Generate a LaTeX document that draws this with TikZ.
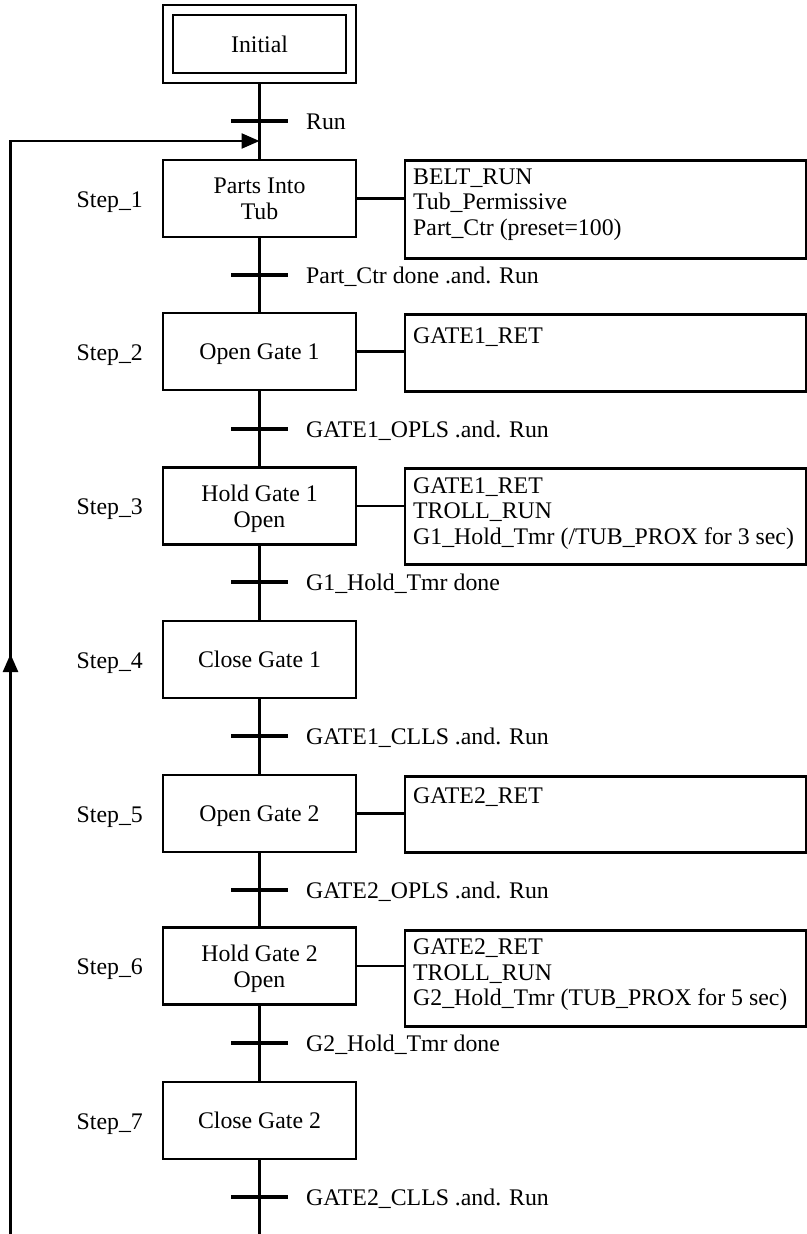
\documentclass[tikz,border=0pt]{standalone}
\usepackage{fontspec}
\setmainfont{Liberation Serif}
\usetikzlibrary{arrows.meta}
\begin{document}
\begin{tikzpicture}[x=1pt,y=-1pt,
  every node/.style={font=\fontsize{23.8}{26}\selectfont},
  line/.style={line width=2.5pt},
  stepbox/.style={draw, line width=2.5pt, minimum width=193pt, minimum height=77pt, align=center, inner sep=0pt, text depth=0pt},
  actbox/.style={draw, line width=2.5pt, minimum width=401pt, inner sep=0pt, anchor=north west},
  bar/.style={line width=3.5pt},
  lab/.style={anchor=base west, inner sep=0pt},
  steplab/.style={anchor=base east, inner sep=0pt},
  tip/.style={-{Triangle[length=18pt,width=15pt]}}
]
\useasboundingbox (0,0) rectangle (806,1234);

% initial step
\node[draw, line width=2.5pt, minimum width=193pt, minimum height=78pt, inner sep=0pt] (init) at (259.5,44) {};
\node[draw, line width=2.5pt, minimum width=173pt, minimum height=58pt, inner sep=0pt, text depth=0pt] (initin) at (259.5,44) {Initial};

% steps
\node[stepbox] (s1) at (259.5,198.5) {Parts Into\\Tub};
\node[stepbox] (s2) at (259.5,351.5) {Open Gate 1};
\node[stepbox] (s3) at (259.5,506) {Hold Gate 1\\Open};
\node[stepbox] (s4) at (259.5,659.5) {Close Gate 1};
\node[stepbox] (s5) at (259.5,813.5) {Open Gate 2};
\node[stepbox] (s6) at (259.5,966) {Hold Gate 2\\Open};
\node[stepbox] (s7) at (259.5,1120.5) {Close Gate 2};

% step labels
\node[steplab] (n1) at (143,207) {Step\_1};
\node[steplab] (n2) at (143,360) {Step\_2};
\node[steplab] (n3) at (143,514.5) {Step\_3};
\node[steplab] (n4) at (143,668) {Step\_4};
\node[steplab] (n5) at (143,822) {Step\_5};
\node[steplab] (n6) at (143,974.5) {Step\_6};
\node[steplab] (n7) at (143,1129) {Step\_7};

% transitions
\coordinate (t0) at (259.5,121);
\coordinate (t1) at (259.5,275);
\coordinate (t2) at (259.5,429);
\coordinate (t3) at (259.5,582);
\coordinate (t4) at (259.5,736);
\coordinate (t5) at (259.5,890);
\coordinate (t6) at (259.5,1043);
\coordinate (t7) at (259.5,1197);
\coordinate (bot) at (259.5,1236);

% main line
\draw[line] (init.south) -- (s1.north);
\draw[line] (s1.south) -- (s2.north);
\draw[line] (s2.south) -- (s3.north);
\draw[line] (s3.south) -- (s4.north);
\draw[line] (s4.south) -- (s5.north);
\draw[line] (s5.south) -- (s6.north);
\draw[line] (s6.south) -- (s7.north);
\draw[line] (s7.south) -- (bot);

\foreach \t in {t0,t1,t2,t3,t4,t5,t6,t7}{
  \draw[bar] ([xshift=-28.5pt]\t) -- ([xshift=28.5pt]\t);
}

\node[lab] (l0) at (306,129) {Run};
\node[lab] (l1) at (306,283) {Part\_Ctr done .and. Run};
\node[lab] (l2) at (306,437) {GATE1\_OPLS .and. Run};
\node[lab] (l3) at (306,590) {G1\_Hold\_Tmr done};
\node[lab] (l4) at (306,744) {GATE1\_CLLS .and. Run};
\node[lab] (l5) at (306,898) {GATE2\_OPLS .and. Run};
\node[lab] (l6) at (306,1051) {G2\_Hold\_Tmr done};
\node[lab] (l7) at (306,1205) {GATE2\_CLLS .and. Run};

% action boxes
\node[actbox, minimum height=98pt] (a1) at (403.5,159) {};
\node[actbox, minimum height=77pt] (a2) at (403.5,313) {};
\node[actbox, minimum height=96pt] (a3) at (403.5,467) {};
\node[actbox, minimum height=76pt] (a5) at (403.5,775) {};
\node[actbox, minimum height=96pt] (a6) at (403.5,929) {};

\draw[line] (s1.east) -- (s1.east -| a1.west);
\draw[line] (s2.east) -- (s2.east -| a2.west);
\draw[line] (s3.east) -- (s3.east -| a3.west);
\draw[line] (s5.east) -- (s5.east -| a5.west);
\draw[line] (s6.east) -- (s6.east -| a6.west);

\node[lab] (a1x) at (413,184) {BELT\_RUN};
\node[lab] (a1y) at (413,209.5) {Tub\_Permissive};
\node[lab] (a1z) at (413,235) {Part\_Ctr (preset=100)};
\node[lab] (a2x) at (413,343) {GATE1\_RET};
\node[lab] (a3x) at (413,493) {GATE1\_RET};
\node[lab] (a3y) at (413,518.5) {TROLL\_RUN};
\node[lab] (a3z) at (413,544) {G1\_Hold\_Tmr (/TUB\_PROX for 3 sec)};
\node[lab] (a5x) at (413,803) {GATE2\_RET};
\node[lab] (a6x) at (413,954.5) {GATE2\_RET};
\node[lab] (a6y) at (413,980) {TROLL\_RUN};
\node[lab] (a6z) at (413,1005.5) {G2\_Hold\_Tmr (TUB\_PROX for 5 sec)};

% return path
\coordinate (r0) at (10.5,1236);
\coordinate (r1) at (10.5,141);
\coordinate (r2) at (259.5,141);
\coordinate (ra) at (10.5,685);
\coordinate (rb) at (10.5,654);
\draw[line, tip] (r0) -- (r1) -- (r2);
\draw[line, tip] (ra) -- (rb);
\end{tikzpicture}
\end{document}
